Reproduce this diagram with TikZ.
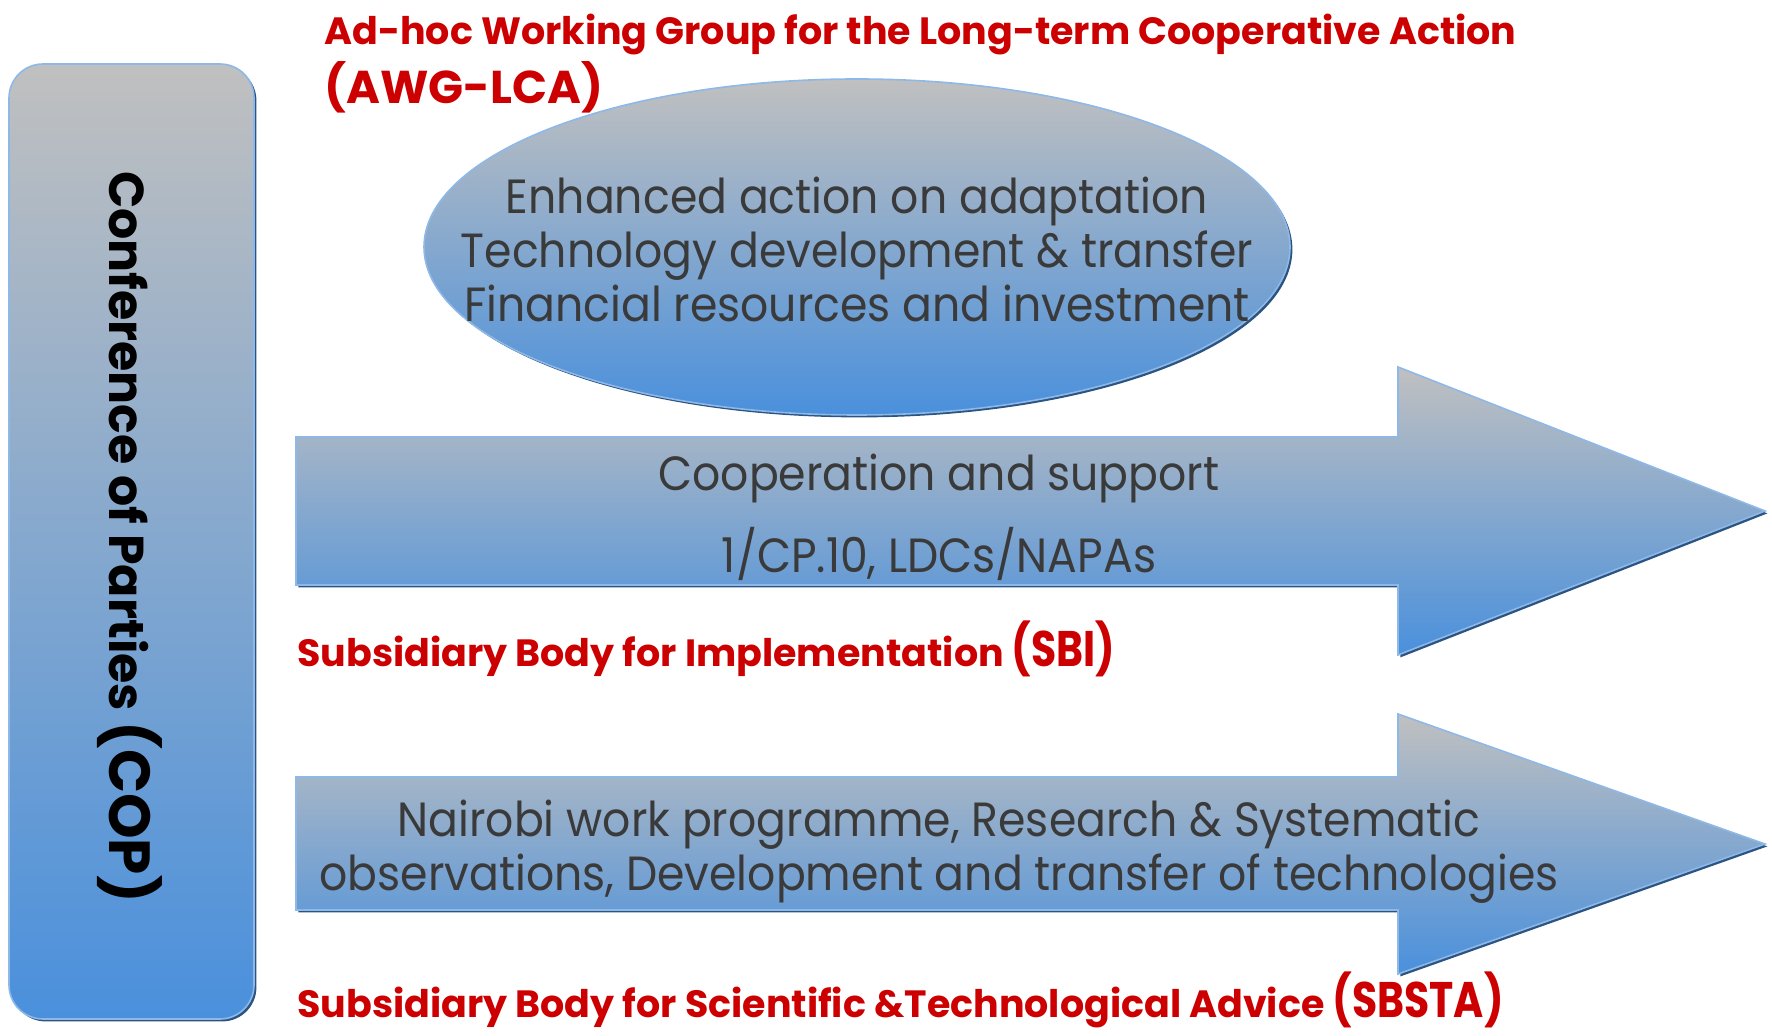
\documentclass[tikz,border=0pt]{standalone}
\usepackage{fontspec}
\setmainfont{Poppins}
\newfontfamily\narrowfont[FakeStretch=0.92]{Poppins}
\newfontfamily\tightfont[FakeStretch=0.82]{Poppins}
\usetikzlibrary{shapes.geometric, shadows}

\definecolor{topgray}{RGB}{192,192,192}
\definecolor{botblue}{RGB}{74,144,220}
\definecolor{rimlight}{RGB}{141,184,232}
\definecolor{rimdark}{RGB}{44,84,130}
\definecolor{labelred}{RGB}{204,0,0}
\definecolor{inkgray}{RGB}{58,58,58}

\tikzset{
    panel/.style={top color=topgray, bottom color=botblue, draw=rimlight, line width=0.8pt,
        drop shadow={shadow xshift=1.2pt, shadow yshift=-1.2pt, fill=rimdark, opacity=1}},
    redlabel/.style={anchor=base west, inner sep=0pt, text=labelred,
        font=\bfseries\fontsize{19}{22}\selectfont},
    bodytext/.style={text=inkgray, align=center, font=\narrowfont\fontsize{24}{27}\selectfont},
}
\newcommand{\biglabel}{\tightfont\bfseries\fontsize{25}{28}\selectfont}

\begin{document}
\begin{tikzpicture}[x=0.5pt, y=-0.5pt]
    \useasboundingbox (0,0) rectangle (1772,1036);

    % COP column
    \node[panel, rounded corners=17pt, minimum width=122.5pt, minimum height=477.5pt, inner sep=0pt] (cop) at (131.5,541.5) {};
    \node[rotate=-90, font=\bfseries\fontsize{24.5}{30}\selectfont] (coptext) at (130,537) {Conference of Parties {\fontsize{29}{30}\selectfont(COP)}};

    % AWG-LCA
    \node[redlabel] (lcatitle) at (324,45) {Ad-hoc Working Group for the Long-term Cooperative Action};
    \node[redlabel, font=\bfseries\fontsize{23}{26}\selectfont] (lcaabbr) at (324,104) {(AWG-LCA)};
    \node[panel, ellipse, minimum width=433pt, minimum height=168pt, inner sep=0pt] (lca) at (857,247) {};
    \node[bodytext] (lcatext) at (857,249) {Enhanced action on adaptation\\Technology development \& transfer\\Financial resources and investment};

    % SBI arrow
    \path[panel] (296,437) -- (1398,437) -- (1398,367) -- (1765,511) -- (1398,655) -- (1398,585) -- (296,585) -- cycle;
    \node[bodytext] (sbitop) at (939,478) {Cooperation and support};
    \node[bodytext] (sbibot) at (939,554) {1/CP.10, LDCs/NAPAs};
    \node[redlabel] (sbi) at (297,667) {Subsidiary Body for Implementation {\biglabel(SBI)}};

    % SBSTA arrow
    \path[panel] (296,777) -- (1398,777) -- (1398,714) -- (1765,844) -- (1398,974) -- (1398,910) -- (296,910) -- cycle;
    \node[bodytext] (sbstatext) at (939,852) {Nairobi work programme, Research \& Systematic\\observations, Development and transfer of technologies};
    \node[redlabel] (sbsta) at (297,1017) {Subsidiary Body for Scientific \&Technological Advice {\biglabel(SBSTA)}};
\end{tikzpicture}
\end{document}
